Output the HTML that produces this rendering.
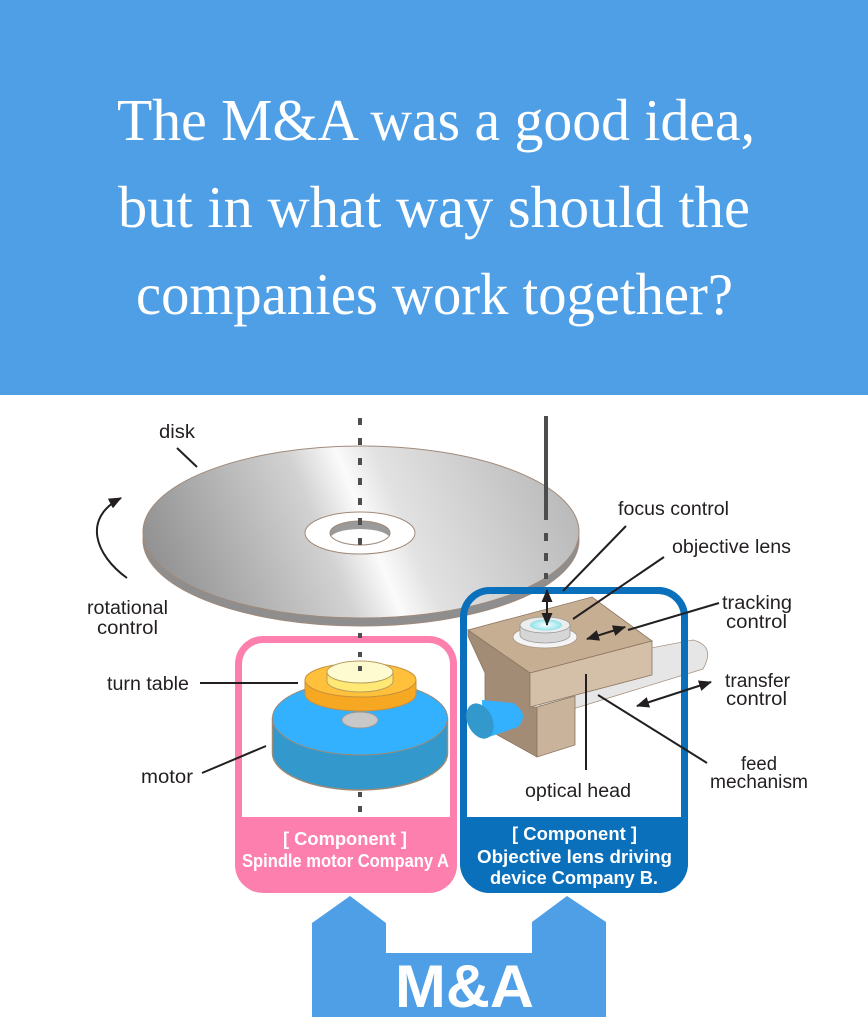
<!DOCTYPE html>
<html><head><meta charset="utf-8"><style>
html,body{margin:0;padding:0;background:#fff;}
svg{display:block;}
.lb{font-family:"Liberation Sans",Arial,sans-serif;font-size:19px;fill:#231f20;}
.cp{font-family:"Liberation Sans",Arial,sans-serif;font-size:18px;font-weight:bold;fill:#fff;}
.hd{font-family:"Liberation Serif","Times New Roman",serif;font-size:59px;fill:#fff;}
.ln{stroke:#231f20;stroke-width:2;fill:none;}
</style></head><body>
<svg width="868" height="1030" viewBox="0 0 868 1030" xmlns="http://www.w3.org/2000/svg">
<defs>
<linearGradient id="dg" gradientUnits="userSpaceOnUse" x1="150" y1="620" x2="570" y2="450">
<stop offset="0" stop-color="#888"/>
<stop offset="0.42" stop-color="#d2d2d2"/>
<stop offset="0.52" stop-color="#fbfbfb"/>
<stop offset="0.6" stop-color="#e2e2e2"/>
<stop offset="1" stop-color="#b5b5b5"/>
</linearGradient>
<radialGradient id="lens" cx="0.5" cy="0.5" r="0.5">
<stop offset="0" stop-color="#ffffff"/>
<stop offset="1" stop-color="#8ee3ea"/>
</radialGradient>
<clipPath id="hole"><ellipse cx="360" cy="533" rx="30" ry="12"/></clipPath>
<marker id="ah" viewBox="0 0 13 11" refX="12" refY="5.5" markerWidth="13" markerHeight="11" markerUnits="userSpaceOnUse" orient="auto-start-reverse">
<path d="M0,0 L13,5.5 L0,11 Z" fill="#231f20"/>
</marker>
</defs>

<!-- header -->
<rect x="0" y="0" width="868" height="395" fill="#4f9fe7"/>
<text class="hd" x="117" y="140" textLength="638" lengthAdjust="spacingAndGlyphs">The M&amp;A was a good idea,</text>
<text class="hd" x="118" y="227" textLength="632" lengthAdjust="spacingAndGlyphs">but in what way should the</text>
<text class="hd" x="136" y="314" textLength="597" lengthAdjust="spacingAndGlyphs">companies work together?</text>

<!-- blue box base (interior drawn before disk) -->
<rect x="460" y="587" width="228" height="306" rx="30" fill="#0a70bb"/>
<path d="M467,817 L467,617 A23,23 0 0 1 490,594 L658,594 A23,23 0 0 1 681,617 L681,817 Z" fill="#fff"/>

<!-- disk -->
<ellipse cx="361" cy="540" rx="218" ry="86" fill="#8e8e8e" stroke="#a08a7a" stroke-width="1"/>
<ellipse cx="361" cy="532" rx="218" ry="86" fill="url(#dg)" stroke="#a08a7a" stroke-width="1"/>
<ellipse cx="360" cy="533" rx="55" ry="21" fill="#fff" stroke="#a08a7a" stroke-width="1"/>
<g clip-path="url(#hole)">
<ellipse cx="360" cy="533" rx="30" ry="12" fill="#9a9a9a"/>
<ellipse cx="360" cy="539" rx="30" ry="10" fill="#fff"/>
</g>
<ellipse cx="360" cy="533" rx="30" ry="12" fill="none" stroke="#a08a7a" stroke-width="1"/>

<!-- blue box outline over disk -->
<rect x="463.5" y="590.5" width="221" height="299" rx="26.5" fill="none" stroke="#0a70bb" stroke-width="7"/>

<!-- axis lines -->
<line x1="360" y1="416" x2="360" y2="545" stroke="#4d4d4d" stroke-width="4" stroke-dasharray="7 13" stroke-dashoffset="-2"/>
<line x1="546" y1="416" x2="546" y2="520" stroke="#4d4d4d" stroke-width="4"/>
<line x1="546" y1="533" x2="546" y2="579" stroke="#4d4d4d" stroke-width="4" stroke-dasharray="8 12"/>

<!-- disk labels -->
<text class="lb" x="159" y="438" textLength="36" lengthAdjust="spacingAndGlyphs">disk</text>
<line class="ln" x1="177" y1="448" x2="197" y2="467"/>
<path class="ln" d="M127,578 C95,555 82,518 121,498" stroke-width="2.5" marker-end="url(#ah)"/>
<text class="lb" x="87" y="614" textLength="81" lengthAdjust="spacingAndGlyphs">rotational</text>
<text class="lb" x="97" y="634" textLength="61" lengthAdjust="spacingAndGlyphs">control</text>

<!-- pink box -->
<rect x="235" y="636" width="222" height="257" rx="28" fill="#fd7fae"/>
<path d="M242,817 L242,664 A21,21 0 0 1 263,643 L429,643 A21,21 0 0 1 450,664 L450,817 Z" fill="#fff"/>
<text class="cp" x="283" y="845" textLength="124" lengthAdjust="spacingAndGlyphs">[ Component ]</text>
<text class="cp" x="242" y="867" textLength="207" lengthAdjust="spacingAndGlyphs">Spindle motor Company A</text>

<!-- motor -->
<path d="M272.5,718 L272.5,753 A87.5,37 0 0 0 447.5,753 L447.5,718 Z" fill="#3399cc" stroke="#9c8a76" stroke-width="1.5"/>
<ellipse cx="360" cy="718" rx="87.5" ry="37" fill="#33b1ff" stroke="#9c8a76" stroke-width="1"/>
<ellipse cx="360" cy="720" rx="18" ry="8" fill="#c8c8c8" stroke="#9a9a9a" stroke-width="1"/>
<!-- turntable -->
<path d="M305,680 L305,694 A55.5,17 0 0 0 416,694 L416,680 Z" fill="#f7a823" stroke="#c8903a" stroke-width="1"/>
<ellipse cx="360.5" cy="680" rx="55.5" ry="17" fill="#ffc13b" stroke="#c8903a" stroke-width="1"/>
<path d="M327,672 L327,681 A33,11 0 0 0 393,681 L393,672 Z" fill="#ffe873" stroke="#b8a060" stroke-width="1"/>
<ellipse cx="360" cy="672" rx="33" ry="11" fill="#fffbd0" stroke="#b8a060" stroke-width="1"/>
<rect x="358" y="633" width="4" height="5" fill="#4d4d4d"/>
<rect x="358" y="652" width="4" height="5" fill="#4d4d4d"/>
<rect x="358" y="666" width="4" height="5" fill="#4d4d4d"/>
<rect x="358" y="792" width="4" height="5" fill="#4d4d4d"/>
<rect x="358" y="806" width="4" height="6" fill="#4d4d4d"/>

<text class="lb" x="107" y="690" textLength="82" lengthAdjust="spacingAndGlyphs">turn table</text>
<line class="ln" x1="200" y1="683" x2="298" y2="683"/>
<text class="lb" x="141" y="783" textLength="52" lengthAdjust="spacingAndGlyphs">motor</text>
<line class="ln" x1="202" y1="773" x2="266" y2="746"/>

<!-- blue box labels -->
<text class="cp" x="512" y="840" textLength="125" lengthAdjust="spacingAndGlyphs">[ Component ]</text>
<text class="cp" x="477" y="863" textLength="195" lengthAdjust="spacingAndGlyphs">Objective lens driving</text>
<text class="cp" x="490" y="884" textLength="168" lengthAdjust="spacingAndGlyphs">device Company B.</text>

<!-- rod -->
<path d="M540,669 L693,640 Q716,646 703,669 L540,719 Z" fill="#e6e6e6" stroke="#a89482" stroke-width="0.8"/>
<rect x="681" y="630" width="7" height="60" fill="#0a70bb"/>

<!-- head -->
<polygon points="468,630 530,673 530,707 537,707 537,757 485,728 485,673 468,636" fill="#a38c76" stroke="#8b7560" stroke-width="0.8"/>
<polygon points="537,707 575,696 575,745 537,757" fill="#c9b49b" stroke="#8b7560" stroke-width="0.8"/>
<polygon points="468,630 592,597 652,641 530,673" fill="#c6ae93" stroke="#8b7560" stroke-width="0.8"/>
<polygon points="530,673 652,641 652,675 530,707" fill="#d4c0a8" stroke="#8b7560" stroke-width="0.8"/>
<!-- feed motor cylinder -->
<path d="M482,700 L513,703 Q530,714 518,727 L483,739 Z" fill="#33b1ff"/>
<ellipse cx="480" cy="721" rx="12.5" ry="18.5" transform="rotate(-25 480 721)" fill="#3399cc"/>
<!-- lens -->
<ellipse cx="545" cy="637" rx="32" ry="11" fill="#f4f4f4" stroke="#a89482" stroke-width="0.8"/>
<path d="M520,625 L520,635 A25,8 0 0 0 570,635 L570,625 Z" fill="#d6d6d6" stroke="#9a9a9a" stroke-width="0.8"/>
<ellipse cx="545" cy="625" rx="25" ry="8" fill="#ececec" stroke="#9a9a9a" stroke-width="0.8"/>
<ellipse cx="546" cy="625" rx="16" ry="5.5" fill="url(#lens)"/>

<!-- arrows -->
<line class="ln" x1="547" y1="590" x2="547" y2="625" stroke-width="2.2" marker-start="url(#ah)" marker-end="url(#ah)"/>
<line class="ln" x1="587" y1="639" x2="625" y2="627" stroke-width="2.2" marker-start="url(#ah)" marker-end="url(#ah)"/>
<line class="ln" x1="637" y1="706" x2="711" y2="682" stroke-width="2.2" marker-start="url(#ah)" marker-end="url(#ah)"/>

<!-- right labels -->
<text class="lb" x="618" y="515" textLength="111" lengthAdjust="spacingAndGlyphs">focus control</text>
<line class="ln" x1="626" y1="526" x2="563" y2="591"/>
<text class="lb" x="672" y="553" textLength="119" lengthAdjust="spacingAndGlyphs">objective lens</text>
<line class="ln" x1="664" y1="557" x2="573" y2="619"/>
<text class="lb" x="722" y="609" textLength="70" lengthAdjust="spacingAndGlyphs">tracking</text>
<text class="lb" x="726" y="628" textLength="61" lengthAdjust="spacingAndGlyphs">control</text>
<line class="ln" x1="719" y1="603" x2="628" y2="630"/>
<text class="lb" x="725" y="687" textLength="65" lengthAdjust="spacingAndGlyphs">transfer</text>
<text class="lb" x="726" y="705" textLength="61" lengthAdjust="spacingAndGlyphs">control</text>
<text class="lb" x="741" y="770" textLength="36" lengthAdjust="spacingAndGlyphs">feed</text>
<text class="lb" x="710" y="788" textLength="98" lengthAdjust="spacingAndGlyphs">mechanism</text>
<line class="ln" x1="707" y1="763" x2="598" y2="695"/>
<text class="lb" x="525" y="797" textLength="106" lengthAdjust="spacingAndGlyphs">optical head</text>
<line class="ln" x1="586" y1="674" x2="586" y2="770"/>

<!-- M&A shape -->
<path d="M312,1017 L312,923 L350,896 L386,923 L386,953 L532,953 L532,922 L567,896 L606,922 L606,1017 Z" fill="#4f9fe7"/>
<text x="395" y="1007" textLength="139" lengthAdjust="spacingAndGlyphs" font-family="Liberation Sans, Arial, sans-serif" font-weight="bold" font-size="60" fill="#fff">M&amp;A</text>
</svg>
</body></html>
